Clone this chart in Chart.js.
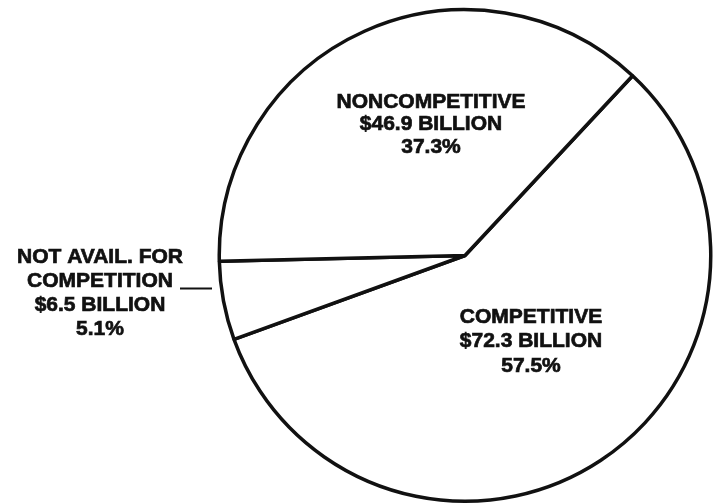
<!DOCTYPE html>
<html>
<head>
<meta charset="utf-8">
<script src="https://cdn.jsdelivr.net/npm/chart.js@4/dist/chart.umd.min.js"></script>
<style>
  html, body { margin: 0; padding: 0; background: #fff; }
  #wrap { width: 718px; height: 504px; }
</style>
</head>
<body>
<div id="wrap"><canvas id="pieChart" width="718" height="504"></canvas></div>
<script>
// slices, in clockwise order starting from the upper right cut
const categories = ['COMPETITIVE', 'NOT AVAIL. FOR COMPETITION', 'NONCOMPETITIVE'];
const billions = [72.3, 6.5, 46.9];
const percents = ['57.5%', '5.1%', '37.3%'];

// text block drawn for each slice
const labelLines = [
    ['COMPETITIVE', '$' + billions[0] + ' BILLION', percents[0]],
    ['NOT AVAIL. FOR', 'COMPETITION', '$' + billions[1] + ' BILLION', percents[1]],
    ['NONCOMPETITIVE', '$' + billions[2] + ' BILLION', percents[2]]
];

// label anchors, relative to pie center (first baseline)
const labelSpots = [
    { dx: 66, dy: 67, lh: 24.5 },
    { dx: -365, dy: 7, lh: 24 },
    { dx: -34, dy: -148, lh: 22.5 }
];

const sliceLabels = {
    id: 'sliceLabels',
    afterDraw(chart) {
        const ctx = chart.ctx;
        const arc = chart.getDatasetMeta(0).data[0];
        const cx = arc.x, cy = arc.y;
        ctx.save();
        ctx.fillStyle = '#111';
        ctx.strokeStyle = '#111';
        ctx.lineWidth = 0.7;
        ctx.font = 'bold 21px "Liberation Sans", Arial, sans-serif';
        ctx.textAlign = 'center';
        ctx.textBaseline = 'alphabetic';
        labelLines.forEach((lines, i) => {
            const s = labelSpots[i];
            lines.forEach((t, j) => {
                ctx.fillText(t, cx + s.dx, cy + s.dy + j * s.lh);
                ctx.strokeText(t, cx + s.dx, cy + s.dy + j * s.lh);
            });
        });
        // leader from the small slice label to the pie
        ctx.lineWidth = 2;
        ctx.beginPath();
        ctx.moveTo(cx - 285, cy + 33);
        ctx.lineTo(cx - 253, cy + 33);
        ctx.stroke();
        ctx.restore();
    }
};

const pieChart = new Chart(document.getElementById('pieChart'), {
    type: 'pie',
    data: {
        labels: categories,
        datasets: [{
            data: billions,
            backgroundColor: '#ffffff',
            borderColor: '#111111',
            borderWidth: 3.5
        }]
    },
    options: {
        responsive: false,
        animation: false,
        rotation: 43,
        layout: { padding: { left: 217, right: 5, top: 8, bottom: 1 } },
        plugins: {
            legend: { display: false },
            tooltip: { enabled: false }
        }
    },
    plugins: [sliceLabels]
});
</script>
</body>
</html>
